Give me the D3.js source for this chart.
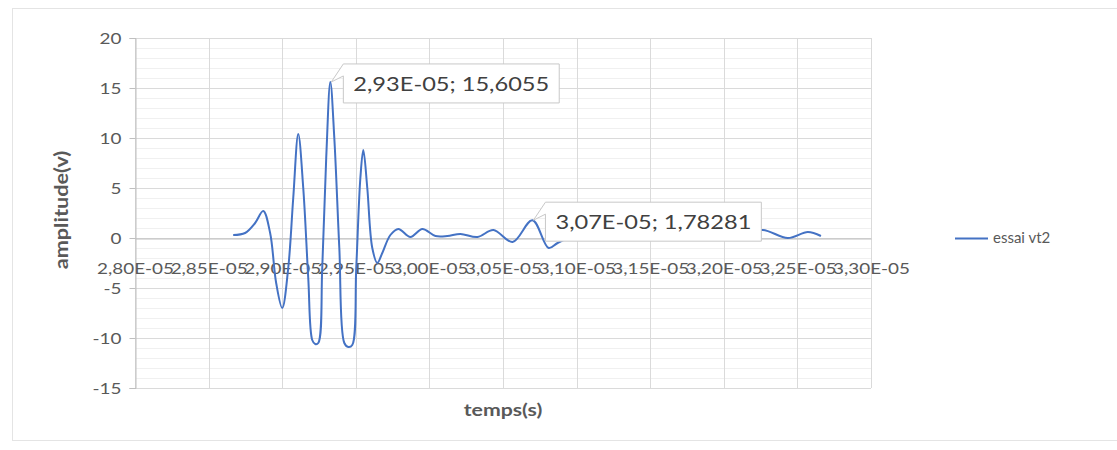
<!DOCTYPE html>
<html>
<head>
<meta charset="utf-8">
<script src="https://cdn.jsdelivr.net/npm/d3@7"></script>
<style>
  html, body { margin: 0; background: #fff; }
  svg { display: block; }
  text { font-family: Lato, "Open Sans", sans-serif; }
</style>
</head>
<body>
<svg id="chart" width="1117" height="450"></svg>
<script>
// Signal "essai vt2": time (s) and amplitude (V)
const times = [
  2.8667e-5, 2.8748e-5, 2.8816e-5, 2.8871e-5, 2.8918e-5, 2.8959e-5, 2.9000e-5, 2.9041e-5,
  2.9075e-5, 2.9109e-5, 2.9143e-5, 2.9177e-5, 2.9204e-5, 2.9224e-5, 2.9245e-5, 2.9272e-5,
  2.9299e-5, 2.9327e-5, 2.9354e-5, 2.9388e-5, 2.9422e-5, 2.9449e-5, 2.9476e-5, 2.9503e-5,
  2.9531e-5, 2.9551e-5, 2.9578e-5, 2.9612e-5, 2.9646e-5, 2.9680e-5, 2.9735e-5, 2.9789e-5,
  2.9871e-5, 2.9952e-5, 3.0041e-5, 3.0122e-5, 3.0211e-5, 3.0327e-5, 3.0435e-5, 3.0565e-5,
  3.0700e-5, 3.0810e-5, 3.0871e-5, 3.0993e-5, 3.1163e-5, 3.1333e-5, 3.1503e-5, 3.1707e-5,
  3.1912e-5, 3.2116e-5, 3.2265e-5, 3.2435e-5, 3.2571e-5, 3.2660e-5
];
const amplitudes = [
  0.3, 0.5, 1.5, 2.7, 0.5, -4.5, -7.0, -3.0,
  4.0, 10.4, 5.0, -4.0, -10.2, -10.6, -10.5, -3.0,
  8.0, 15.6055, 10.0, -1.0, -10.5, -10.9, -10.7, -3.0,
  6.0, 8.8, 5.0, -1.0, -2.5, -1.5, 0.3, 0.9,
  0.1, 0.9, 0.2, 0.2, 0.4, 0.1, 0.8, -0.4,
  1.78281, -1.0, -0.5, 0.3, 0.5, 0.2, 0.6, 0.3,
  0.5, 0.4, 0.8, 0.0, 0.6, 0.2
];
const seriesName = "essai vt2";
const xTickValues = [2.80e-5, 2.85e-5, 2.90e-5, 2.95e-5, 3.00e-5, 3.05e-5, 3.10e-5, 3.15e-5, 3.20e-5, 3.25e-5, 3.30e-5];
const xTickLabels = ["2,80E-05", "2,85E-05", "2,90E-05", "2,95E-05", "3,00E-05", "3,05E-05", "3,10E-05", "3,15E-05", "3,20E-05", "3,25E-05", "3,30E-05"];
const yTickValues = [-15, -10, -5, 0, 5, 10, 15, 20];
const yTickLabels = ["-15", "-10", "-5", "0", "5", "10", "15", "20"];
const labelledIndices = [17, 40]; // points carrying a data callout
const xTitle = "temps(s)";
const yTitle = "amplitude(v)";

const svg = d3.select("#chart");
const STRETCH = 1.18;
const plot = { left: 135, right: 871, top: 38, bottom: 388 };

const x = d3.scaleLinear().domain([2.80e-5, 3.30e-5]).range([plot.left, plot.right]);
const y = d3.scaleLinear().domain([-15, 20]).range([plot.bottom, plot.top]);

// widen glyphs horizontally
function stretch(sel, k) {
  sel.each(function () {
    const len = this.getComputedTextLength();
    d3.select(this).attr("textLength", len * k).attr("lengthAdjust", "spacingAndGlyphs");
  });
}

// chart frame
svg.append("rect")
  .attr("x", 12.5).attr("y", 8.5).attr("width", 1120).attr("height", 432)
  .attr("fill", "#fff").attr("stroke", "#e4e4e4");

// minor horizontal gridlines
const minor = d3.range(-15, 21, 1).filter(v => v % 5 !== 0);
svg.append("g").selectAll("line").data(minor).join("line")
  .attr("x1", plot.left).attr("x2", plot.right)
  .attr("y1", d => Math.round(y(d)) + 0.5).attr("y2", d => Math.round(y(d)) + 0.5)
  .attr("stroke", "#f0f0f0");

// major gridlines
svg.append("g").selectAll("line").data(yTickValues).join("line")
  .attr("x1", plot.left).attr("x2", plot.right)
  .attr("y1", d => Math.round(y(d)) + 0.5).attr("y2", d => Math.round(y(d)) + 0.5)
  .attr("stroke", "#dadada");
svg.append("g").selectAll("line").data(xTickValues).join("line")
  .attr("y1", plot.top).attr("y2", plot.bottom)
  .attr("x1", d => Math.round(x(d)) + 0.5).attr("x2", d => Math.round(x(d)) + 0.5)
  .attr("stroke", "#dadada");

// y axis
const yAxis = svg.append("g")
  .attr("transform", `translate(${plot.left + 0.5},0)`)
  .call(d3.axisLeft(y).tickValues(yTickValues).tickSize(6)
    .tickFormat(d => yTickLabels[yTickValues.indexOf(d)]));
yAxis.select(".domain").attr("stroke", "#bfbfbf");
yAxis.selectAll(".tick line").attr("stroke", "#bfbfbf");
yAxis.selectAll(".tick text")
  .attr("x", -14).attr("dy", "0.36em")
  .attr("fill", "#595959").attr("font-size", 16)
  .call(stretch, STRETCH);

// x axis crossing at zero
const xAxis = svg.append("g")
  .attr("transform", `translate(0,${Math.round(y(0)) + 0.5})`)
  .call(d3.axisBottom(x).tickValues(xTickValues).tickSize(0)
    .tickFormat(d => xTickLabels[xTickValues.indexOf(d)]));
xAxis.select(".domain").attr("stroke", "#bfbfbf");
xAxis.selectAll(".tick text")
  .attr("y", 30).attr("dy", "0.36em")
  .attr("fill", "#595959").attr("font-size", 16)
  .call(stretch, STRETCH);

// axis titles
svg.append("text")
  .attr("x", (plot.left + plot.right) / 2).attr("y", 416)
  .attr("text-anchor", "middle").attr("font-size", 17).attr("font-weight", "bold")
  .attr("fill", "#595959").text(xTitle)
  .call(stretch, 1.25);
svg.append("text")
  .attr("transform", `translate(68,${(plot.top + plot.bottom) / 2 - 3}) rotate(-90)`)
  .attr("text-anchor", "middle").attr("font-size", 18).attr("font-weight", "bold")
  .attr("fill", "#595959").text(yTitle)
  .call(stretch, 1.2);

// series line
const pts = times.map((t, i) => [t, amplitudes[i]]);
const line = d3.line().x(d => x(d[0])).y(d => y(d[1])).curve(d3.curveCatmullRom.alpha(0.5));
svg.append("path")
  .datum(pts)
  .attr("d", line)
  .attr("fill", "none").attr("stroke", "#4472C4").attr("stroke-width", 2)
  .attr("stroke-linejoin", "round");

// data callouts
function fmtTime(t) {
  const [m, e] = t.toExponential(2).split("e");
  const ex = parseInt(e, 10);
  return m.replace(".", ",") + "E" + (ex < 0 ? "-" : "+") + String(Math.abs(ex)).padStart(2, "0");
}
function fmtVal(v) { return String(v).replace(".", ","); }

labelledIndices.forEach(i => {
  const px = x(times[i]), py = y(amplitudes[i]);
  const g = svg.append("g");
  const L = px + 13, T = py - 18;
  const txt = g.append("text")
    .attr("x", L + 10).attr("y", T + 20).attr("dy", "0.36em")
    .attr("font-size", 20).attr("fill", "#404040")
    .text(fmtTime(times[i]) + "; " + fmtVal(amplitudes[i]))
    .call(stretch, STRETCH);
  const w = +txt.attr("textLength") + 20, h = 39;
  g.insert("path", "text")
    .attr("d", `M${L},${T}H${L + w}V${T + h}H${L}V${T + 12}L${px + 1},${py}Z`)
    .attr("fill", "#fff").attr("stroke", "#c8c8c8");
});

// legend
const lg = svg.append("g").attr("transform", "translate(955,238)");
lg.append("line").attr("x1", 0).attr("x2", 33).attr("y1", 0.5).attr("y2", 0.5)
  .attr("stroke", "#4472C4").attr("stroke-width", 2);
lg.append("text").attr("x", 38).attr("y", 0).attr("dy", "0.36em")
  .attr("font-size", 15).attr("fill", "#595959").text(seriesName);
</script>
</body>
</html>
